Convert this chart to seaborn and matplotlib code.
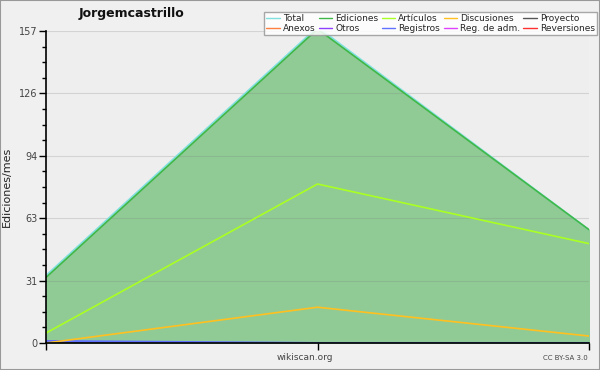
import numpy as np
import pandas as pd
import matplotlib
matplotlib.use("Agg")
import matplotlib.pyplot as plt
import seaborn as sns
from matplotlib.lines import Line2D

months = [0, 1, 2]
total = [34, 159, 57]
ediciones = [33, 158, 57]
articulos = [5, 80, 50]
discusiones = [0, 18, 3.5]
registros = [1, 0, 0]
zeros = [0, 0, 0]

series_names = ["Total", "Ediciones", "Artículos", "Discusiones", "Proyecto",
                "Anexos", "Otros", "Registros", "Reg. de adm.", "Reversiones"]
series_values = [total, ediciones, articulos, discusiones, zeros,
                 zeros, zeros, registros, zeros, zeros]
colors = ["#80e0e0", "#40b848", "#aaff22", "#ffc020", "#555555",
          "#ff8040", "#9040ff", "#6070ff", "#e040ff", "#ff3030"]
yticks = [0, 31.4, 62.8, 94.2, 125.6, 157]
ytick_labels = ["0", "31", "63", "94", "126", "157"]

sns.set_theme(style="white")
plt.rcParams['font.family'] = ['DejaVu Sans']

rows = []
for name, vals in zip(series_names, series_values):
    for m, v in zip(months, vals):
        rows.append({"mes": m, "valor": v, "serie": name})
df = pd.DataFrame(rows)

fig = plt.figure(figsize=(6, 3.7), dpi=100, facecolor="#f0f0f0")
ax = fig.add_axes([46/600, 27/370, 543/600, 312/370])
ax.set_facecolor("#eeeeee")

ax.fill_between(months, ediciones, color="#90cb96", zorder=1)

draw_order = ["Reversiones", "Reg. de adm.", "Anexos", "Otros", "Proyecto",
              "Registros", "Discusiones", "Artículos", "Total", "Ediciones"]
palette = dict(zip(series_names, colors))
for name in draw_order:
    sub = df[df.serie == name]
    lw = 1.5 if name == "Registros" else 1.2
    sns.lineplot(data=sub, x="mes", y="valor", color=palette[name], lw=lw,
                 ax=ax, zorder=3, legend=False)

ax.set_xlim(0, 2)
ax.set_ylim(0, 157)
ax.set_xticks([0, 1, 2])
ax.set_xticklabels(["", "", ""])
ax.set_yticks(yticks)
ax.set_yticklabels(ytick_labels, fontsize=7, color="#444444")
ax.set_yticks(np.arange(0, 157.1, 7.85), minor=True)
ax.tick_params(axis="y", which="major", length=5, width=1, color="black", pad=1, left=True)
ax.tick_params(axis="y", which="minor", length=3, width=1, color="black", left=True)
ax.tick_params(axis="x", which="major", length=5, width=1, color="black", bottom=True)
ax.grid(axis="y", which="major", color="#777777", alpha=0.22, lw=0.8, zorder=2)
ax.set_axisbelow(False)
for s in ["top", "right"]:
    ax.spines[s].set_visible(False)
for s in ["left", "bottom"]:
    ax.spines[s].set_color("black")
    ax.spines[s].set_linewidth(1.2)
    ax.spines[s].set_zorder(5)
ax.set_xlabel("")
ax.set_ylabel("Ediciones/mes", fontsize=8, color="#222222")
ax.yaxis.set_label_coords(-(46 - 12) / 543, 0.5)

order_rows = [series_names[:5], series_names[5:]]
handles, labels = [], []
for c in range(5):
    for r in range(2):
        nm = order_rows[r][c]
        handles.append(Line2D([], [], color=palette[nm], lw=1))
        labels.append(nm)
leg = ax.legend(handles, labels, ncol=5, loc="upper right",
                bbox_to_anchor=(597/600, 1 - 12/370), bbox_transform=fig.transFigure,
                fontsize=6.5, frameon=True, fancybox=False, handlelength=1.5,
                handletextpad=0.3, columnspacing=0.4, labelspacing=0.05,
                borderpad=0.25, borderaxespad=0)
leg.get_frame().set_edgecolor("#999999")
leg.get_frame().set_facecolor("white")
leg.get_frame().set_alpha(0.85)
leg.set_zorder(10)

fig.text(131/600, 1 - 14/370, "Jorgemcastrillo", fontsize=9, fontweight="bold",
         ha="center", va="center", color="#111111")
fig.text(305/600, 1 - 358/370, "wikiscan.org", fontsize=6.5, ha="center",
         va="center", color="#444444")
fig.text(588/600, 1 - 358/370, "CC BY-SA 3.0", fontsize=5, ha="right",
         va="center", color="#444444")

border = plt.Rectangle((0, 0), 1, 1, transform=fig.transFigure, fill=False,
                       edgecolor="#999999", lw=1.5)
fig.add_artist(border)

fig.savefig("out.png", dpi=100, facecolor=fig.get_facecolor())
